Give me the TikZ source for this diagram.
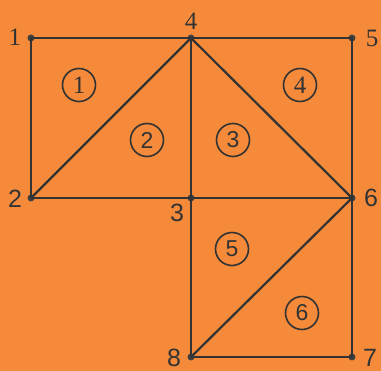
\documentclass[tikz,border=0pt]{standalone}
\usepackage{fontspec}
\setsansfont{Liberation Sans}
\newfontfamily\serifdig{Liberation Serif}
\begin{document}
\begin{tikzpicture}[x=1pt,y=-1pt,
  edge/.style={draw=black!80, line width=2.2pt},
  vert/.style={circle, fill=black!75, inner sep=0pt, minimum size=7pt},
  lab/.style={font=\fontsize{25}{25}\selectfont\sffamily, text=black!80, inner sep=0pt},
  labs/.style={font=\fontsize{25}{25}\selectfont\serifdig, text=black!80, inner sep=0pt},
  elem/.style={circle, draw=black!80, line width=1.6pt, minimum size=33pt, inner sep=0pt, text=black!80, font=\fontsize{23}{23}\selectfont\sffamily},
  elems/.style={elem, font=\fontsize{25}{25}\selectfont\serifdig}]
\fill[fill={rgb,255:red,245;green,138;blue,58}] (0,0) rectangle (381,371);
\useasboundingbox (0,0) rectangle (381,371);
\node[vert] (n1) at (31,38) {};
\node[vert] (n4) at (191,38) {};
\node[vert] (n5) at (352,38) {};
\node[vert] (n2) at (31,198) {};
\node[vert] (n3) at (191,198) {};
\node[vert] (n6) at (352,198) {};
\node[vert] (n8) at (191,357) {};
\node[vert] (n7) at (352,357) {};
\draw[edge] (n1.center) -- (n5.center) -- (n6.center) -- (n7.center) -- (n8.center) -- (n3.center);
\draw[edge] (n1.center) -- (n2.center) -- (n6.center);
\draw[edge] (n2.center) -- (n4.center) -- (n6.center) -- (n8.center);
\draw[edge] (n4.center) -- (n3.center);
\node[labs] (l1) at (15,37) {1};
\node[labs] (l4) at (191,21) {4};
\node[labs] (l5) at (372,38) {5};
\node[lab] (l2) at (15,199) {2};
\node[lab] (l3) at (177,213) {3};
\node[lab] (l6) at (371,198) {6};
\node[lab] (l8) at (174,358) {8};
\node[lab] (l7) at (370,358) {7};
\node[elems] (e1) at (79,85) {1};
\node[elem] (e2) at (147,140) {2};
\node[elem] (e3) at (233,140) {3};
\node[elems] (e4) at (300,85) {4};
\node[elem] (e5) at (232,249) {5};
\node[elem] (e6) at (302,313) {6};
\end{tikzpicture}
\end{document}
